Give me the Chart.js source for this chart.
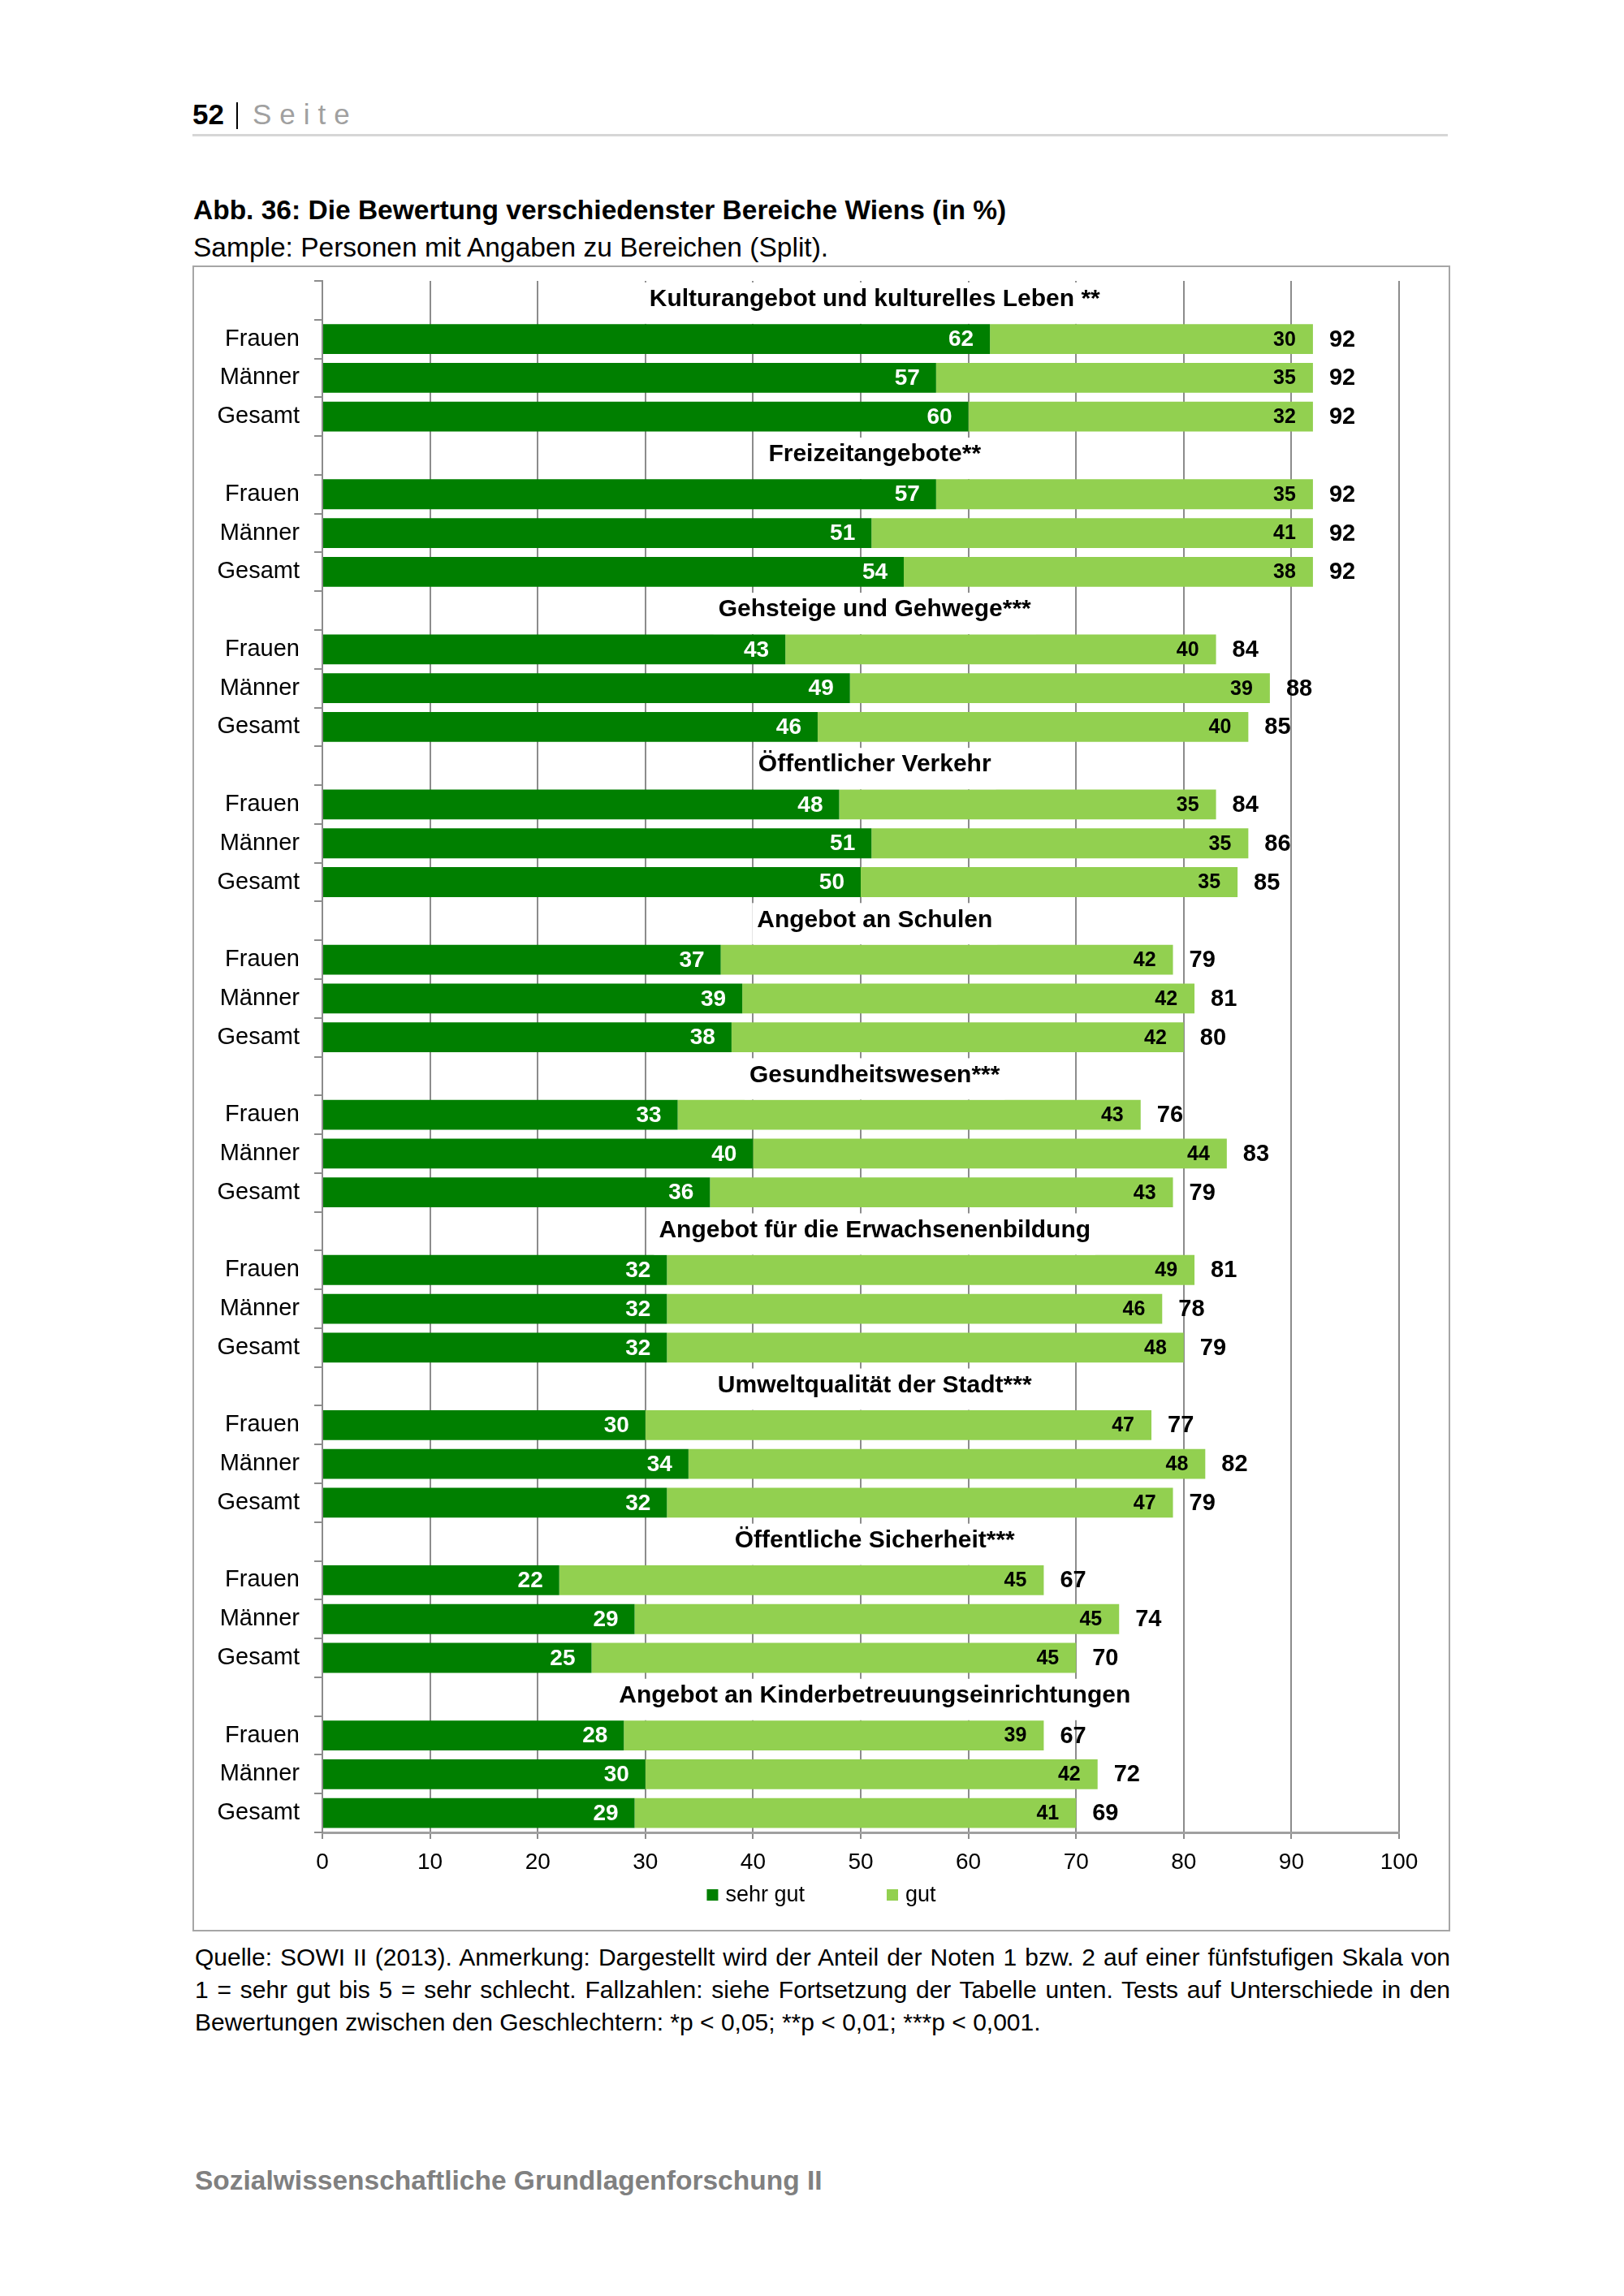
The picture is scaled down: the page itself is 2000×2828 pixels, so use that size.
<!DOCTYPE html>
<html lang="de">
<head>
<meta charset="utf-8">
<title>Abb. 36: Die Bewertung verschiedenster Bereiche Wiens</title>
<script src="https://cdn.jsdelivr.net/npm/chart.js@4.4.1/dist/chart.umd.min.js"></script>
<style>
  html, body { margin: 0; padding: 0; background: #fff; }
  body { width: 2000px; height: 2828px; position: relative; overflow: hidden;
         font-family: 'Liberation Sans', Arial, Helvetica, sans-serif; color: #000; }
  .abs { position: absolute; white-space: nowrap; }
  #pagenum { left: 237px; top: 119px; font-size: 35px; line-height: 44px; font-weight: bold; }
  #sep { left: 291px; top: 126px; width: 2px; height: 33px; background: #000; }
  #seite { left: 311px; top: 119px; font-size: 35px; line-height: 44px; color: #a0a0a0; letter-spacing: 10px; }
  #rule { left: 237px; top: 165px; width: 1546px; height: 3px; background: #d6d6d6; }
  #title { left: 238px; top: 239px; font-size: 33.5px; line-height: 40px; font-weight: bold; }
  #subtitle { left: 238px; top: 285px; font-size: 33.5px; line-height: 40px; }
  #box { left: 237px; top: 327px; width: 1549px; height: 2052px; border: 2px solid #a6a6a6; box-sizing: border-box; }
  #box canvas { display: block; }
  #note { left: 240px; top: 2391px; width: 1546px; font-size: 30px; line-height: 40px; }
  #note div { white-space: nowrap; text-align: justify; text-align-last: justify; }
  #note div.last { text-align-last: left; }
  #footer { left: 240px; top: 2666px; font-size: 33.5px; line-height: 40px; font-weight: bold; color: #808080; }
</style>
</head>
<body>
<div id="pagenum" class="abs">52</div>
<div id="sep" class="abs"></div>
<div id="seite" class="abs">Seite</div>
<div id="rule" class="abs"></div>

<div id="title" class="abs">Abb. 36: Die Bewertung verschiedenster Bereiche Wiens (in %)</div>
<div id="subtitle" class="abs">Sample: Personen mit Angaben zu Bereichen (Split).</div>

<div id="box" class="abs">
  <canvas id="chart" width="1545" height="2048" style="width:1545px;height:2048px"></canvas>
</div>

<div id="note" class="abs">
  <div>Quelle: SOWI II (2013). Anmerkung: Dargestellt wird der Anteil der Noten 1 bzw. 2 auf einer fünfstufigen Skala von</div>
  <div>1 = sehr gut bis 5 = sehr schlecht. Fallzahlen: siehe Fortsetzung der Tabelle unten. Tests auf Unterschiede in den</div>
  <div class="last">Bewertungen zwischen den Geschlechtern: *p &lt; 0,05; **p &lt; 0,01; ***p &lt; 0,001.</div>
</div>

<div id="footer" class="abs">Sozialwissenschaftliche Grundlagenforschung II</div>

<script>
const FONT = "'Liberation Sans', Arial, Helvetica, sans-serif";

// Bereiche (Gruppentitel) und Zeilen je Gruppe
const groupTitles = [
  'Kulturangebot und kulturelles Leben **',
  'Freizeitangebote**',
  'Gehsteige und Gehwege***',
  'Öffentlicher Verkehr',
  'Angebot an Schulen',
  'Gesundheitswesen***',
  'Angebot für die Erwachsenenbildung',
  'Umweltqualität der Stadt***',
  'Öffentliche Sicherheit***',
  'Angebot an Kinderbetreuungseinrichtungen'
];
const rowLabels = ['Frauen', 'Männer', 'Gesamt'];

// Werte in %, je Gruppe: Frauen, Männer, Gesamt
const sehrGut = [
  62, 57, 60,
  57, 51, 54,
  43, 49, 46,
  48, 51, 50,
  37, 39, 38,
  33, 40, 36,
  32, 32, 32,
  30, 34, 32,
  22, 29, 25,
  28, 30, 29
];
const gut = [
  30, 35, 32,
  35, 41, 38,
  40, 39, 40,
  35, 35, 35,
  42, 42, 42,
  43, 44, 43,
  49, 46, 48,
  47, 48, 47,
  45, 45, 45,
  39, 42, 41
];
const summe = [
  92, 92, 92,
  92, 92, 92,
  84, 88, 85,
  84, 86, 85,
  79, 81, 80,
  76, 83, 79,
  81, 78, 79,
  77, 82, 79,
  67, 74, 70,
  67, 72, 69
];

const seriesNames = ['sehr gut', 'gut'];
const seriesColors = ['#007f00', '#92d050'];
const xTickStep = 10;
const xMin = 0;
const xMax = 100;
const TITLE_POS = 51.3; // horizontale Mitte der Gruppentitel (Achsenwert)

// Kategorien: pro Gruppe eine Titelzeile + 3 Balkenzeilen
const labels = [], dataSehrGut = [], dataGut = [], dataSumme = [];
groupTitles.forEach((t, g) => {
  labels.push(t);
  dataSehrGut.push(null);
  dataGut.push(null);
  dataSumme.push(null);
  rowLabels.forEach((r, i) => {
    labels.push(r);
    dataSehrGut.push(sehrGut[g * 3 + i]);
    dataGut.push(gut[g * 3 + i]);
    dataSumme.push(summe[g * 3 + i]);
  });
});
const isTitleRow = i => i % 4 === 0;

const groupTitlePlugin = {
  id: 'groupTitles',
  afterDatasetsDraw(chart) {
    const { ctx, scales: { x, y } } = chart;
    ctx.save();
    ctx.font = 'bold 30px ' + FONT;
    ctx.textAlign = 'center';
    ctx.textBaseline = 'middle';
    groupTitles.forEach((t, g) => {
      const cy = y.getPixelForValue(g * 4);
      const cx = x.getPixelForValue(TITLE_POS);
      const w = ctx.measureText(t).width;
      ctx.fillStyle = '#fff';
      ctx.fillRect(cx - w / 2 - 6, cy - 22, w + 12, 51);
      ctx.fillStyle = '#000';
      ctx.fillText(t, cx, cy - 1);
    });
    ctx.restore();
  }
};

const valueLabelPlugin = {
  id: 'valueLabels',
  afterDatasetsDraw(chart) {
    const ctx = chart.ctx;
    const m0 = chart.getDatasetMeta(0);
    const m1 = chart.getDatasetMeta(1);
    ctx.save();
    ctx.textBaseline = 'middle';
    m0.data.forEach((bar, i) => {
      if (isTitleRow(i)) return;
      const b1 = m1.data[i];
      ctx.textAlign = 'right';
      ctx.font = 'bold 28px ' + FONT;
      ctx.fillStyle = '#fff';
      ctx.fillText(dataSehrGut[i], bar.x - 20, bar.y + 1);
      ctx.font = 'bold 25px ' + FONT;
      ctx.fillStyle = '#000';
      ctx.fillText(dataGut[i], b1.x - 21, b1.y + 1);
      ctx.textAlign = 'left';
      ctx.font = 'bold 29px ' + FONT;
      ctx.fillText(dataSumme[i], b1.x + 20, b1.y + 1);
    });
    ctx.restore();
  }
};

const legendPlugin = {
  id: 'bottomLegend',
  afterDraw(chart) {
    const ctx = chart.ctx;
    ctx.save();
    ctx.font = '27px ' + FONT;
    const box = 14, boxGap = 9, gap = 101;
    const items = chart.data.datasets.map(d => ({
      text: d.label, color: d.backgroundColor,
      w: box + boxGap + ctx.measureText(d.label).width
    }));
    const total = items.reduce((s, it) => s + it.w, 0) + gap * (items.length - 1);
    let xx = chart.width / 2 - total / 2;
    const yy = chart.chartArea.bottom + 77;
    ctx.textAlign = 'left';
    ctx.textBaseline = 'middle';
    items.forEach(it => {
      ctx.fillStyle = it.color;
      ctx.fillRect(xx, yy - box / 2, box, box);
      ctx.fillStyle = '#000';
      ctx.fillText(it.text, xx + box + boxGap, yy + 1);
      xx += it.w + gap;
    });
    ctx.restore();
  }
};

Chart.defaults.font.family = FONT;

new Chart(document.getElementById('chart'), {
  type: 'bar',
  data: {
    labels: labels,
    datasets: [
      { label: seriesNames[0], data: dataSehrGut, backgroundColor: seriesColors[0] },
      { label: seriesNames[1], data: dataGut, backgroundColor: seriesColors[1] }
    ]
  },
  options: {
    indexAxis: 'y',
    responsive: false,
    animation: false,
    devicePixelRatio: 1,
    barPercentage: 0.77,
    categoryPercentage: 1.0,
    layout: { padding: { left: 0, right: 61, top: 17, bottom: 60 } },
    plugins: {
      legend: { display: false },
      tooltip: { enabled: false }
    },
    scales: {
      x: {
        stacked: true,
        min: xMin,
        max: xMax,
        afterFit: s => { s.height = 60; },
        ticks: { stepSize: xTickStep, color: '#000', font: { size: 28 }, padding: 12, maxRotation: 0 },
        grid: { color: '#8c8c8c', lineWidth: 2, tickLength: 8, drawTicks: true },
        border: { display: true, color: '#a0a0a0', width: 3 }
      },
      y: {
        stacked: true,
        offset: true,
        afterFit: s => { s.width = 158; s.paddingTop = 0; s.paddingBottom = 0; },
        ticks: {
          color: '#000',
          font: { size: 29 },
          padding: 18,
          autoSkip: false,
          callback: function (value, index) {
            return isTitleRow(index) ? '' : this.getLabelForValue(value);
          }
        },
        grid: { offset: true, drawOnChartArea: false, drawTicks: true, tickLength: 10, color: '#8c8c8c', lineWidth: 2 },
        border: { display: true, color: '#8c8c8c', width: 2 }
      }
    }
  },
  plugins: [groupTitlePlugin, valueLabelPlugin, legendPlugin]
});
</script>
</body>
</html>
